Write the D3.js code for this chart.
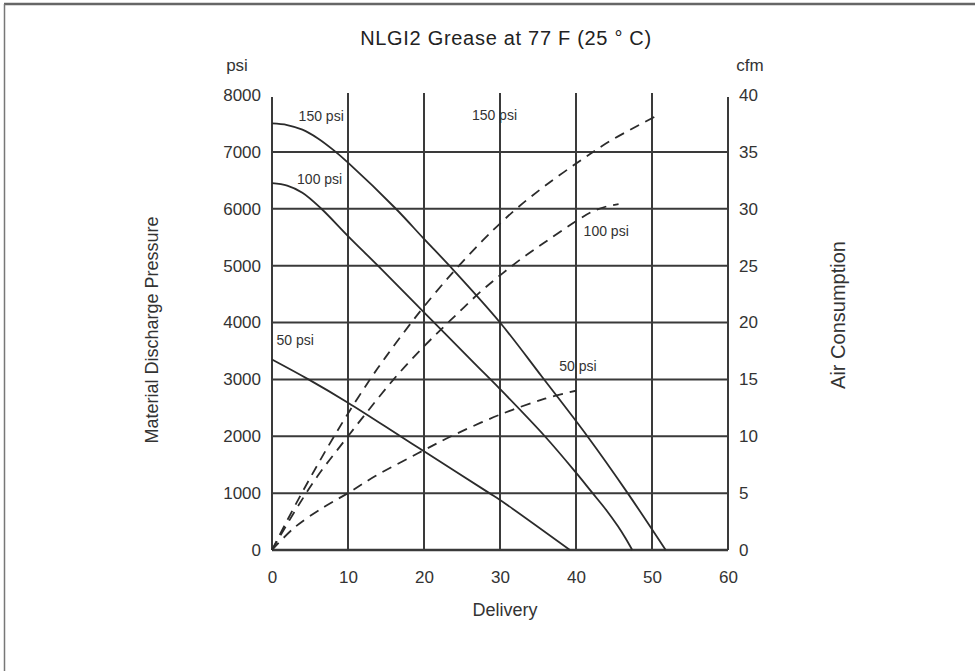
<!DOCTYPE html>
<html>
<head>
<meta charset="utf-8">
<script src="https://cdn.jsdelivr.net/npm/d3@7"></script>
<style>
  body { margin: 0; background: #fff; }
  svg { display: block; font-family: "Liberation Sans", Arial, Helvetica, sans-serif; }
</style>
</head>
<body>
<svg id="chart" width="975" height="671"></svg>
<script>
// Axis ticks
const deliveryTicks = [0, 10, 20, 30, 40, 50, 60];
const pressureTicks = [0, 1000, 2000, 3000, 4000, 5000, 6000, 7000, 8000];
const airTicks = [0, 5, 10, 15, 20, 25, 30, 35, 40];

// Material discharge pressure (psi) vs delivery, per air inlet pressure
const pressure150 = [[0, 7500], [2, 7472], [4, 7390], [6, 7240], [8.1, 7030], [10, 6810], [16.3, 6000],
  [20, 5470], [23.4, 4990], [30, 4000], [35.5, 3050], [41.5, 2000], [46.8, 1000], [51.8, 0]];
const pressure100 = [[0, 6450], [2, 6408], [4, 6282], [6.5, 6000], [10, 5520], [14, 4990], [20, 4180], [26.8, 3260],
  [30, 2830], [35.9, 2000], [40, 1360], [42, 1030], [44, 700], [45.5, 420], [46.5, 210], [47.4, 0]];
const pressure50 = [[0, 3350], [4.8, 3000], [10, 2590], [16.9, 2000], [20, 1735], [28.6, 1000], [30, 880], [39.2, 0]];

// Air consumption (cfm) vs delivery
const air150 = [[0, 0], [2, 2.6], [4, 5.1], [6, 7.5], [8, 9.8], [10, 12.0], [12.8, 14.9], [15, 17.0], [18, 19.7],
  [20, 21.4], [23.4, 24.1], [27.7, 27.2], [30, 28.7], [32.5, 30.2], [35.9, 32.0], [40.5, 34.2], [44.6, 36.0], [50.4, 38.1]];
const air100 = [[0, 0], [3, 3.4], [6, 6.5], [10, 10.0], [12, 11.7], [16, 15.0], [20, 17.9], [23.5, 20.2], [27.6, 22.8],
  [30.3, 24.3], [33, 25.7], [36, 27.1], [40, 28.9], [42, 29.7], [44, 30.2], [45.6, 30.4]];
const air50 = [[0, 0], [3, 2.0], [6.9, 3.8], [10, 5.0], [13.6, 6.5], [19.2, 8.5], [23.9, 10.1], [30, 11.9], [35.9, 13.3], [40, 14.0]];

// Curve labels (anchored in delivery / psi units)
const curveLabels = [
  { text: "150 psi", delivery: 3.5, psi: 7540 },
  { text: "100 psi", delivery: 3.3, psi: 6430 },
  { text: "50 psi", delivery: 0.6, psi: 3600 },
  { text: "150 psi", delivery: 26.3, psi: 7560 },
  { text: "100 psi", delivery: 41.0, psi: 5520 },
  { text: "50 psi", delivery: 37.8, psi: 3150 }
];

const svg = d3.select("#chart");
const gridColor = "#3a3a3a";
const inkColor = "#2b2b2b";
const textColor = "#333";

// frame of the scanned figure
svg.append("line").attr("x1", 4).attr("x2", 975).attr("y1", 4).attr("y2", 4)
  .attr("stroke", "#666").attr("stroke-width", 2.5);
svg.append("line").attr("x1", 4.5).attr("x2", 4.5).attr("y1", 4).attr("y2", 671)
  .attr("stroke", "#777").attr("stroke-width", 1.5);

const x = d3.scaleLinear().domain([0, 60]).range([272, 728]);
const y = d3.scaleLinear().domain([0, 8000]).range([550, 95]);
const yAir = d3.scaleLinear().domain([0, 40]).range([550, 95]);

// grid
const grid = svg.append("g").attr("stroke", gridColor).attr("stroke-width", 2);
grid.selectAll(".hline")
  .data(pressureTicks.filter(d => d < 8000))
  .join("line")
  .attr("class", "hline")
  .attr("x1", x(0)).attr("x2", x(60))
  .attr("y1", d => y(d)).attr("y2", d => y(d))
  .attr("stroke-width", d => d === 0 ? 2.5 : 2);
grid.selectAll(".vline")
  .data(deliveryTicks)
  .join("line")
  .attr("class", "vline")
  .attr("x1", d => x(d)).attr("x2", d => x(d))
  .attr("y1", d => (d === 0 || d === 60) ? y(8000) + 2 : y(8000) - 2)
  .attr("y2", y(0));

// axes (labels only)
const axisLeft = svg.append("g")
  .attr("transform", `translate(${x(0) - 8},0)`)
  .call(d3.axisLeft(y).tickValues(pressureTicks).tickFormat(d3.format("d")).tickSize(0));
const axisRight = svg.append("g")
  .attr("transform", `translate(${x(60) + 8},0)`)
  .call(d3.axisRight(yAir).tickValues(airTicks).tickFormat(d3.format("d")).tickSize(0));
const axisBottom = svg.append("g")
  .attr("transform", `translate(0,${y(0) + 18})`)
  .call(d3.axisBottom(x).tickValues(deliveryTicks).tickFormat(d3.format("d")).tickSize(0));
[axisLeft, axisRight, axisBottom].forEach(a => {
  a.select(".domain").remove();
  a.selectAll("text")
    .attr("font-family", "\"Liberation Sans\", Arial, sans-serif")
    .attr("font-size", 17)
    .attr("fill", textColor);
});

// curves
const pressureLine = d3.line()
  .x(d => x(d[0]))
  .y(d => y(d[1]))
  .curve(d3.curveCatmullRom.alpha(0.5));
svg.append("g")
  .selectAll("path")
  .data([pressure150, pressure100, pressure50])
  .join("path")
  .attr("d", d => pressureLine(d))
  .attr("fill", "none")
  .attr("stroke", inkColor)
  .attr("stroke-width", 1.8);

const airLine = d3.line()
  .x(d => x(d[0]))
  .y(d => yAir(d[1]))
  .curve(d3.curveCatmullRom.alpha(0.5));
svg.append("g")
  .selectAll("path")
  .data([air150, air100, air50])
  .join("path")
  .attr("d", d => airLine(d))
  .attr("fill", "none")
  .attr("stroke", inkColor)
  .attr("stroke-width", 1.8)
  .attr("stroke-dasharray", "10,7");

// curve labels
svg.append("g")
  .selectAll("text")
  .data(curveLabels)
  .join("text")
  .attr("x", d => x(d.delivery))
  .attr("y", d => y(d.psi))
  .attr("font-size", 14)
  .attr("fill", textColor)
  .text(d => d.text);

// titles
svg.append("text")
  .attr("x", 506).attr("y", 45)
  .attr("text-anchor", "middle")
  .attr("font-size", 20)
  .attr("letter-spacing", 0.7)
  .attr("fill", "#222")
  .text("NLGI2 Grease at 77 F (25 ° C)");
svg.append("text")
  .attr("x", x(0) - 35).attr("y", 71)
  .attr("text-anchor", "middle")
  .attr("font-size", 17)
  .attr("fill", textColor)
  .text("psi");
svg.append("text")
  .attr("x", x(60) + 22).attr("y", 71)
  .attr("text-anchor", "middle")
  .attr("font-size", 17)
  .attr("fill", textColor)
  .text("cfm");
svg.append("text")
  .attr("x", 505).attr("y", 616)
  .attr("text-anchor", "middle")
  .attr("font-size", 18)
  .attr("fill", textColor)
  .text("Delivery");
svg.append("text")
  .attr("transform", "translate(158,330) rotate(-90)")
  .attr("text-anchor", "middle")
  .attr("font-size", 18)
  .attr("fill", textColor)
  .text("Material Discharge Pressure");
svg.append("text")
  .attr("transform", "translate(845,315) rotate(-90)")
  .attr("text-anchor", "middle")
  .attr("font-size", 20)
  .attr("fill", textColor)
  .text("Air Consumption");
</script>
</body>
</html>
